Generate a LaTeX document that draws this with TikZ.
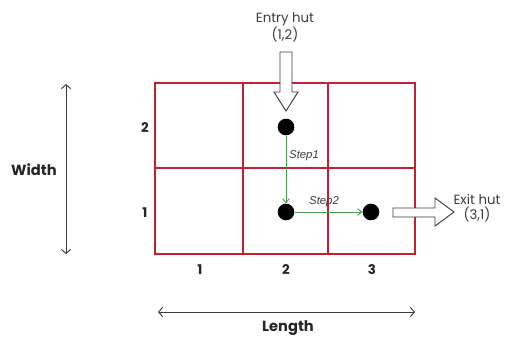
\documentclass[tikz,border=0pt]{standalone}
\usepackage{fontspec}
\setmainfont{Poppins}
\newfontfamily\stepfont{Liberation Sans}
\usetikzlibrary{arrows.meta}
\definecolor{gridred}{RGB}{200,30,50}
\definecolor{stepgreen}{RGB}{70,160,80}
\definecolor{dimgray}{RGB}{60,60,60}
\begin{document}
\begin{tikzpicture}[x=0.75pt,y=-0.75pt,
  outer/.style={draw=gridred,line width=1.6pt},
  inner/.style={draw=gridred,line width=1.1pt},
  hut/.style={circle,fill=black,inner sep=0pt,minimum size=12.5pt},
  stepline/.style={draw=stepgreen,line width=0.7pt,-{Straight Barb[length=3pt,width=5pt]}},
  steplbl/.style={font=\stepfont\itshape\fontsize{8.5}{10}\selectfont,text=dimgray,inner sep=1pt},
  dim/.style={draw=dimgray,line width=0.7pt,{Straight Barb[length=3pt,width=7pt]}-{Straight Barb[length=3pt,width=7pt]}},
  axislbl/.style={font=\bfseries\fontsize{11}{13}\selectfont,text=black!85},
  idx/.style={font=\bfseries\fontsize{10}{12}\selectfont,text=black!85},
  hutlbl/.style={font=\fontsize{10}{11}\selectfont,text=dimgray,align=center,inner sep=0pt},
  blockarrow/.style={draw=dimgray,line width=0.7pt,fill=white,line join=miter}]
\useasboundingbox (0,0) rectangle (509,337);

% grid of huts
\draw[inner] (155,168) -- (415,168);
\draw[inner] (243,83) -- (243,254);
\draw[inner,line width=0.8pt] (328,83) -- (328,254);
\draw[outer] (155,83) rectangle (415,254);

% row and column indices
\node[idx] (r2) at (145,128) {2};
\node[idx] (r1) at (145,213) {1};
\node[idx] (c1) at (200,270) {1};
\node[idx] (c2) at (286,270) {2};
\node[idx] (c3) at (372,270) {3};

% dimension arrows
\coordinate (wt) at (66,84);
\coordinate (wb) at (66,254);
\draw[dim] (wt) -- (wb);
\node[axislbl] (width) at (34,170) {Width};
\coordinate (ll) at (158,312);
\coordinate (lr) at (415,312);
\draw[dim] (ll) -- (lr);
\node[axislbl] (length) at (288,328) {Length};

% huts
\node[hut] (entry) at (286,127) {};
\node[hut] (mid) at (286,212) {};
\node[hut] (exit) at (371,212) {};

% steps
\draw[stepline] (entry) -- (mid);
\node[steplbl] (s1) at (304,156) {Step1};
\draw[stepline] (mid) -- (exit);
\node[steplbl] (s2) at (324,202) {Step2};

% entry marker
\draw[blockarrow] (280,52) -- (292,52) -- (292,92) -- (298,92) -- (286,111)
  -- (274,92) -- (280,92) -- cycle;
\node[hutlbl] (entrylbl) at (285,27) {Entry hut\\(1,2)};

% exit marker
\draw[blockarrow] (393,208) -- (435,208) -- (435,198) -- (454,212) -- (435,226)
  -- (435,217) -- (393,217) -- cycle;
\node[hutlbl] (exitlbl) at (477,208) {Exit hut\\(3,1)};
\end{tikzpicture}
\end{document}
